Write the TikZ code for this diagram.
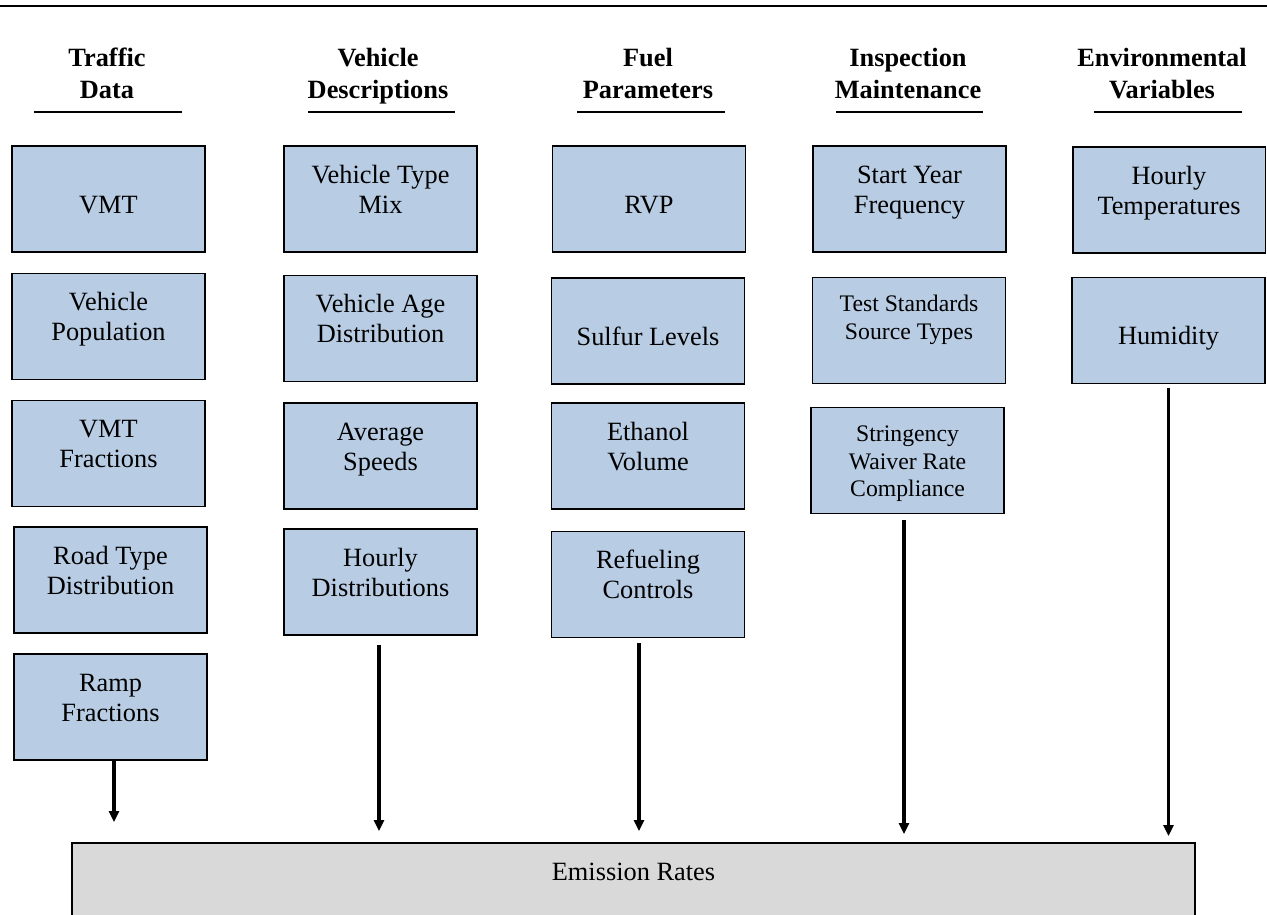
\documentclass[tikz,border=0pt]{standalone}
\usepackage{fontspec}
\setmainfont{Liberation Serif}
\usetikzlibrary{arrows.meta}
\definecolor{boxblue}{HTML}{B8CCE4}
\definecolor{ratesgray}{HTML}{D9D9D9}

\begin{document}
\begin{tikzpicture}[x=0.02cm, y=-0.02cm,
    box/.style={draw=black, line width=1.1pt, fill=boxblue, minimum width=3.86cm,
        inner xsep=0pt, inner ysep=0pt, align=center, font=\fontsize{15}{17}\selectfont,
        text height=1.34cm, text depth=0.78cm},
    smallbox/.style={font=\fontsize{13.5}{15.6}\selectfont, text height=1.23cm, text depth=0.89cm},
    threeline/.style={font=\fontsize{13.5}{15.6}\selectfont, text height=1.78cm, text depth=0.34cm},
    ratesbox/.style={fill=ratesgray, minimum width=22.46cm, text height=0.74cm, text depth=1.38cm},
    head/.style={align=center, inner sep=0pt, font=\fontsize{15}{17.9}\selectfont\bfseries,
        text height=1.03cm, text depth=0cm},
    flow/.style={-{Triangle[width=0.2cm,length=0.22cm]}, line width=2.2pt, black}]
    \useasboundingbox (0,0) rectangle (1267,914);

    % top rule
    \draw[line width=1.4pt] (0,6) -- (1267,6);

    % headings
    \node[head] (traffic) at (107,72.5) {Traffic\\Data};
    \node[head] (vehicle) at (378,72.5) {Vehicle\\Descriptions};
    \node[head] (fuel) at (648,72.5) {Fuel\\Parameters};
    \node[head] (inspect) at (908,72.5) {Inspection\\Maintenance};
    \node[head] (environ) at (1162,72.5) {Environmental\\Variables};

    % underlines
    \draw[line width=1.1pt] (34,112) -- (182,112);
    \draw[line width=1.1pt] (308,112) -- (455,112);
    \draw[line width=1.1pt] (577,112) -- (725,112);
    \draw[line width=1.1pt] (836,112) -- (983,112);
    \draw[line width=1.1pt] (1094,112) -- (1242,112);

    % traffic data
    \node[box] (vmt) at (108.5,199) {VMT};
    \node[box] (vpop) at (108.5,326.5) {Vehicle\\Population};
    \node[box] (vmtfrac) at (108.5,453.5) {VMT\\Fractions};
    \node[box] (roadtype) at (110.5,580) {Road Type\\Distribution};
    \node[box] (ramp) at (110.5,707) {Ramp\\Fractions};

    % vehicle descriptions
    \node[box] (typemix) at (380.5,199) {Vehicle Type\\Mix};
    \node[box] (agedist) at (380.5,328.5) {Vehicle Age\\Distribution};
    \node[box] (avgspeed) at (380.5,456) {Average\\Speeds};
    \node[box] (hourdist) at (380.5,582) {Hourly\\Distributions};

    % fuel parameters
    \node[box] (rvp) at (649,199) {RVP};
    \node[box] (sulfur) at (648,331) {Sulfur Levels};
    \node[box] (ethanol) at (648,456) {Ethanol\\Volume};
    \node[box] (refuel) at (648,584.5) {Refueling\\Controls};

    % inspection maintenance
    \node[box] (startyr) at (909.5,199) {Start Year\\Frequency};
    \node[box, smallbox] (teststd) at (909,330.5) {Test Standards\\Source Types};
    \node[box, threeline] (stringency) at (907.5,460.5) {Stringency\\Waiver Rate\\Compliance};

    % environmental variables
    \node[box] (hourtemp) at (1169,200) {Hourly\\Temperatures};
    \node[box] (humidity) at (1168.5,330.5) {Humidity};

    % output
    \node[box, ratesbox] (rates) at (633.5,896) {Emission Rates};

    % arrows
    \draw[flow, shorten >=0.4cm] ([xshift=0.07cm]ramp.south) coordinate (a1) -- (a1 |- rates.north);
    \draw[flow, shorten <=0.18cm, shorten >=0.22cm] ([xshift=-0.03cm]hourdist.south) coordinate (a2) -- (a2 |- rates.north);
    \draw[flow, shorten <=0.1cm, shorten >=0.22cm] ([xshift=-0.18cm]refuel.south) coordinate (a3) -- (a3 |- rates.north);
    \draw[flow, shorten <=0.12cm, shorten >=0.16cm] ([xshift=-0.07cm]stringency.south) coordinate (a4) -- (a4 |- rates.north);
    \draw[flow, shorten <=0.08cm, shorten >=0.12cm] (humidity.south) coordinate (a5) -- (a5 |- rates.north);
\end{tikzpicture}
\end{document}
